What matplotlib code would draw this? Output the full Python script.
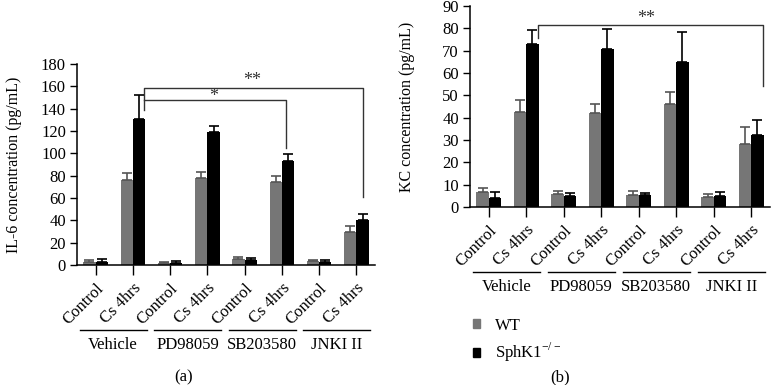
import matplotlib
matplotlib.use("Agg")
import matplotlib.pyplot as plt
from matplotlib.patches import Patch
from matplotlib.transforms import blended_transform_factory
import numpy as np

plt.rcParams['font.family'] = ['Liberation Serif', 'DejaVu Serif']
plt.rcParams['mathtext.fontset'] = 'custom'
plt.rcParams['mathtext.rm'] = 'Liberation Serif'

conditions = ["Control", "Cs 4hrs"] * 4
groups = ["Vehicle", "PD98059", "SB203580", "JNKI II"]
series = ["WT", "SphK1$^{\\mathregular{-/-}}$"]

il6_wt = [2.4, 75.8, 1.8, 78.2, 5.1, 74.3, 3.6, 29.4]
il6_wt_err = [1.8, 6.2, 1.2, 5.1, 1.8, 5.4, 1.2, 5.9]
il6_ko = [2.4, 131.0, 2.1, 119.5, 4.2, 93.1, 2.4, 40.4]
il6_ko_err = [2.7, 21.0, 1.5, 4.8, 1.8, 6.0, 1.8, 5.7]

kc_wt = [6.8, 42.5, 5.7, 41.9, 5.2, 46.0, 4.6, 28.3]
kc_wt_err = [1.5, 5.2, 1.3, 4.4, 1.8, 5.4, 1.2, 7.6]
kc_ko = [4.2, 73.1, 5.1, 70.6, 5.2, 65.0, 5.1, 32.1]
kc_ko_err = [2.5, 6.3, 1.2, 9.2, 1.1, 13.5, 1.5, 6.8]

gray = '#767676'
FS = 12
W, H = 772, 385
fig = plt.figure(figsize=(W / 100, H / 100), dpi=100)

def px_axes(x0, x1, ytop, ybot):
    return fig.add_axes([x0 / W, 1 - ybot / H, (x1 - x0) / W, (ybot - ytop) / H])

axL = px_axes(77, 375, 64, 265)
axR = px_axes(470, 770, 6, 207)

bw = 0.33

def draw(ax, wt, wte, ko, koe, ymax, ystep, ylabel):
    x = np.arange(len(conditions))
    n = len(x)
    ax.bar(x - bw / 2, wt, bw, color=gray, zorder=2)
    ax.bar(x + bw / 2, ko, bw, color='black', zorder=2)
    ax.errorbar(x - bw / 2, wt, yerr=[np.zeros(n), wte], fmt='none',
                ecolor='#555555', elinewidth=1.2, capsize=3.5, capthick=1.2, zorder=3)
    ax.errorbar(x + bw / 2, ko, yerr=[np.zeros(n), koe], fmt='none',
                ecolor='black', elinewidth=1.2, capsize=3.5, capthick=1.2, zorder=3)
    ax.set_xlim(-0.5, len(x) - 0.5)
    ax.set_ylim(0, ymax)
    ax.set_yticks(np.arange(0, ymax + 1, ystep))
    ax.set_xticks(x)
    ax.set_xticklabels(conditions, rotation=45, ha='right', va='top',
                       rotation_mode='anchor', fontsize=FS)
    ax.tick_params(axis='x', length=7, width=1, pad=4)
    ax.tick_params(axis='y', length=5, width=1, pad=3, labelsize=FS)
    for s in ['top', 'right']:
        ax.spines[s].set_visible(False)
    for s in ['left', 'bottom']:
        ax.spines[s].set_linewidth(1.1)
    ax.set_ylabel(ylabel, fontsize=11.5)
    ax.yaxis.set_label_coords(-0.183, 0.5)
    tr = blended_transform_factory(ax.transData, ax.transAxes)
    for i, g in enumerate(groups):
        a = 2 * i
        ax.plot([a - 0.42, a + 1.37], [-0.325, -0.325], color='black', lw=1,
                transform=tr, clip_on=False)
        ax.text(a + 0.47, -0.40, g, transform=tr, ha='center', va='center', fontsize=FS)

draw(axL, il6_wt, il6_wt_err, il6_ko, il6_ko_err, 180, 20, "IL-6 concentration (pg/mL)")
draw(axR, kc_wt, kc_wt_err, kc_ko, kc_ko_err, 90, 10, "KC concentration (pg/mL)")

# significance brackets
bk = dict(color='#333333', lw=1)
axL.plot([1.3, 1.3, 7.18, 7.18], [138.7, 158.7, 158.7, 60.8], **bk)
axL.plot([1.3, 5.1, 5.1], [147.6, 147.6, 104.8], **bk)
axL.text(4.2, 165.0, "**", ha='center', va='center', fontsize=13, color='#333333')
axL.text(3.16, 151.0, "*", ha='center', va='center', fontsize=13, color='#333333')

axR.plot([1.3, 1.3, 7.3, 7.3], [75.8, 81.3, 81.3, 54.4], **bk)
axR.text(4.2, 84.5, "**", ha='center', va='center', fontsize=13, color='#333333')

handles = [Patch(color=gray, label=series[0]), Patch(color='black', label=series[1])]
fig.legend(handles=handles, loc='upper left', bbox_to_anchor=(466 / W, 1 - 311 / H),
           frameon=False, fontsize=FS, handlelength=0.45, handleheight=0.45,
           handletextpad=0.9, labelspacing=0.45, borderaxespad=0)

fig.text(184 / W, 1 - 377 / H, "(a)", ha='center', va='center', fontsize=FS)
fig.text(560 / W, 1 - 377 / H, "(b)", ha='center', va='center', fontsize=FS)

fig.savefig("out.png", dpi=100)
